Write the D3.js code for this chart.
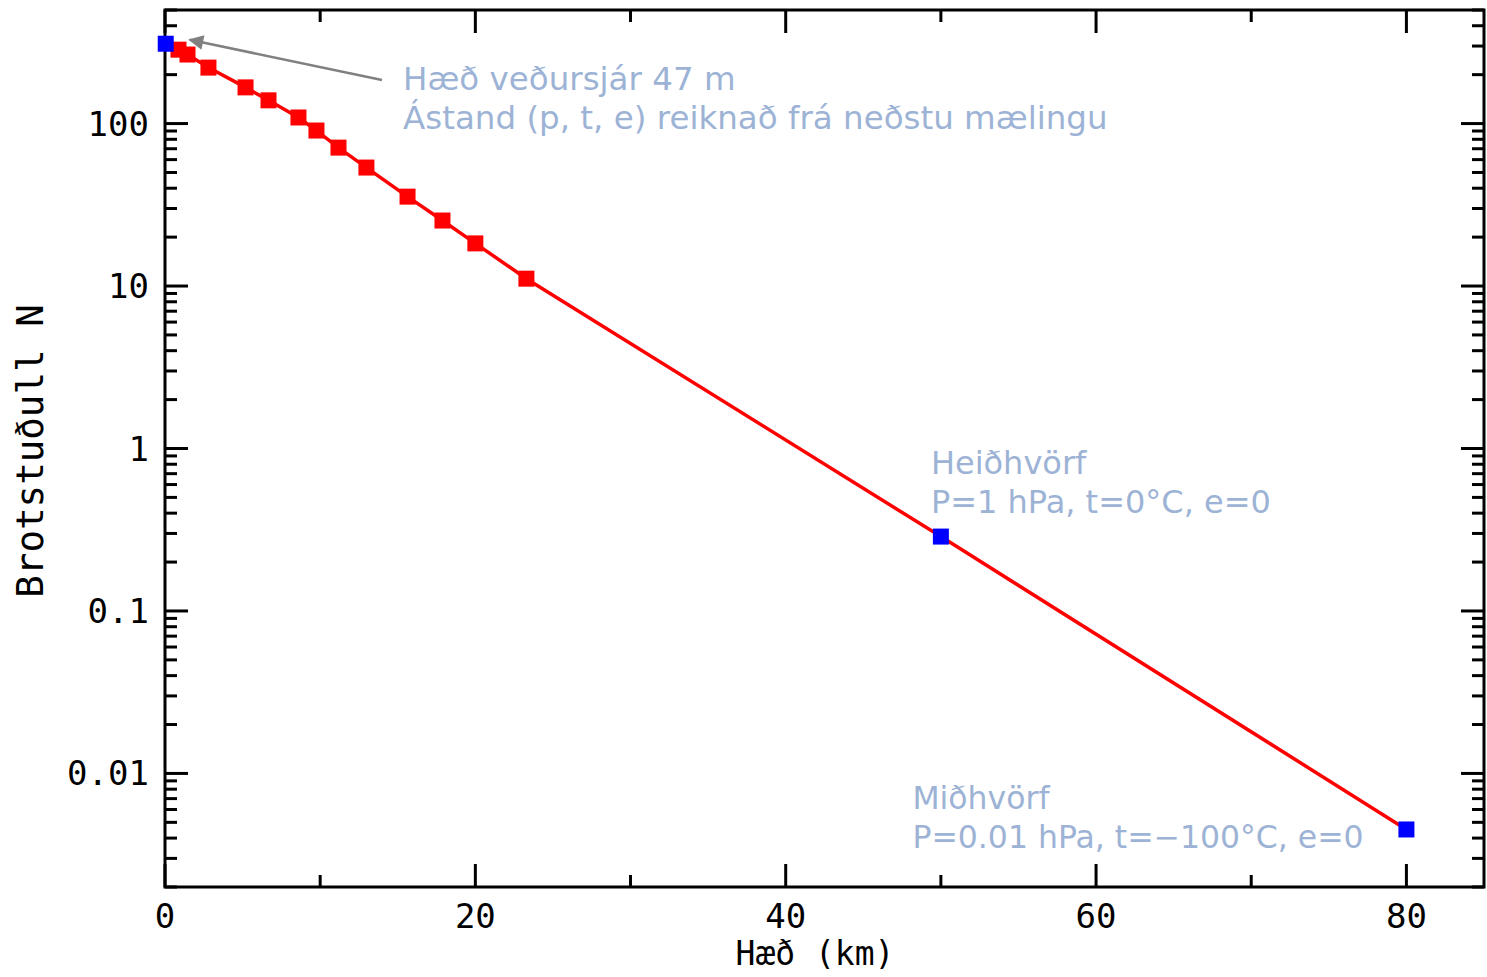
<!DOCTYPE html>
<html>
<head>
<meta charset="utf-8">
<script src="https://cdn.jsdelivr.net/npm/d3@7"></script>
<style>
  body { margin: 0; background: #fff; }
  svg { display: block; }
</style>
</head>
<body>
<div id="chart"></div>
<script>
// hæð (km) og brotstuðull N
const surface = { km: 0.047, N: 310 };
const heightsKm = [0.87, 1.45, 2.80, 5.19, 6.67, 8.60, 9.76, 11.18, 12.98, 15.63, 17.88, 20.0, 23.29];
const refractivity = [285, 266, 221, 167, 139, 109, 90.6, 71.1, 53.6, 35.5, 25.3, 18.3, 11.1];
const upperKm = [50, 80];
const upperN = [0.287, 0.00452];

const xMajor = [0, 20, 40, 60, 80];
const xMinor = [10, 30, 50, 70];
const yMajor = [0.01, 0.1, 1, 10, 100];
const yLabels = ["0.01", "0.1", "1", "10", "100"];

// set the dimensions and margins of the graph
const margin = { top: 10, right: 3, bottom: 90, left: 165 },
    width = 1484 - margin.left,
    height = 887 - margin.top;

const svgRoot = d3.select("#chart")
    .append("svg")
    .attr("width", 1487)
    .attr("height", 977);

const svg = svgRoot.append("g")
    .attr("transform", `translate(${margin.left},${margin.top})`);

const x = d3.scaleLinear().domain([0, 85]).range([0, width]);
const y = d3.scaleLog().domain([0.002, 500]).range([height, 0]);

const mono = "'DejaVu Sans Mono', monospace";
const majLen = 23, minLen = 12;

// minor y ticks (2..9 of each decade)
const yMinor = y.ticks().filter(v => !yMajor.some(m => Math.abs(m - v) / m < 1e-9));

function tickLines(g, vals, fn) {
    g.selectAll("line").data(vals).join("line")
        .attr("stroke", "#000").attr("stroke-width", 3)
        .each(fn);
}

// left & right ticks
const ticks = svg.append("g");
[[yMajor, majLen], [yMinor, minLen]].forEach(([vals, len]) => {
    ticks.append("g").call(tickLines, vals, function (d) {
        d3.select(this).attr("x1", 0).attr("x2", len).attr("y1", y(d)).attr("y2", y(d));
    });
    ticks.append("g").call(tickLines, vals, function (d) {
        d3.select(this).attr("x1", width).attr("x2", width - len).attr("y1", y(d)).attr("y2", y(d));
    });
});
// bottom & top ticks
[[xMajor, majLen], [xMinor, minLen]].forEach(([vals, len]) => {
    ticks.append("g").call(tickLines, vals, function (d) {
        d3.select(this).attr("y1", height).attr("y2", height - len).attr("x1", x(d)).attr("x2", x(d));
    });
    ticks.append("g").call(tickLines, vals, function (d) {
        d3.select(this).attr("y1", 0).attr("y2", len).attr("x1", x(d)).attr("x2", x(d));
    });
});

// frame
svg.append("rect")
    .attr("width", width).attr("height", height)
    .attr("fill", "none").attr("stroke", "#000").attr("stroke-width", 3);

// tick labels
svg.append("g").selectAll("text").data(yMajor).join("text")
    .attr("x", -16).attr("y", d => y(d))
    .attr("text-anchor", "end").attr("dominant-baseline", "central")
    .style("font-family", mono).style("font-size", "34px")
    .text((d, i) => yLabels[i]);

svg.append("g").selectAll("text").data(xMajor).join("text")
    .attr("x", d => x(d)).attr("y", height + 29)
    .attr("text-anchor", "middle").attr("dominant-baseline", "central")
    .style("font-family", mono).style("font-size", "34px")
    .text(d => d);

// axis titles
svg.append("text")
    .attr("x", 650).attr("y", height + 78)
    .attr("text-anchor", "middle")
    .style("font-family", mono).style("font-size", "33px")
    .text("Hæð  (km)");

svgRoot.append("text")
    .attr("transform", "translate(43,451) rotate(-90)")
    .attr("text-anchor", "middle")
    .style("font-family", mono).style("font-size", "37.5px")
    .text("Brotstuðull N");

// the line
const pts = [[surface.km, surface.N]]
    .concat(heightsKm.map((h, i) => [h, refractivity[i]]))
    .concat(upperKm.map((h, i) => [h, upperN[i]]));

svg.append("path")
    .datum(pts)
    .attr("fill", "none")
    .attr("stroke", "#ff0000")
    .attr("stroke-width", 3.5)
    .attr("d", d3.line().x(d => x(d[0])).y(d => y(d[1])));

const sq = 16;
svg.append("g").selectAll("rect")
    .data(heightsKm.map((h, i) => [h, refractivity[i]]))
    .join("rect")
    .attr("x", d => x(d[0]) - sq / 2).attr("y", d => y(d[1]) - sq / 2)
    .attr("width", sq).attr("height", sq)
    .attr("fill", "#ff0000");

svg.append("g").selectAll("rect")
    .data([[surface.km, surface.N]].concat(upperKm.map((h, i) => [h, upperN[i]])))
    .join("rect")
    .attr("x", d => x(d[0]) - sq / 2).attr("y", d => y(d[1]) - sq / 2)
    .attr("width", sq).attr("height", sq)
    .attr("fill", "#0000ff");

// annotations
const noteColor = "#9db3d5";
const sans = "'DejaVu Sans', Verdana, sans-serif";
function note(px, py, lines, size) {
    const t = svg.append("text")
        .attr("x", px).attr("y", py)
        .attr("fill", noteColor)
        .style("font-family", sans).style("font-size", size + "px");
    lines.forEach((l, i) => t.append("tspan").attr("x", px).attr("dy", i ? 39 : 0).text(l));
}
note(238, 80, ["Hæð veðursjár 47 m", "Ástand (p, t, e) reiknað frá neðstu mælingu"], 32.5);
note(x(50) - 10, y(upperN[0]) - 63, ["Heiðhvörf", "P=1 hPa, t=0°C, e=0"], 32);
note(x(80) - 494, y(upperN[1]) - 20, ["Miðhvörf", "P=0.01 hPa, t=−100°C, e=0"], 31.5);

// arrow to surface point
svg.append("defs").append("marker")
    .attr("id", "arr").attr("viewBox", "0 0 10 10")
    .attr("refX", 9).attr("refY", 5)
    .attr("markerWidth", 7).attr("markerHeight", 6)
    .attr("markerUnits", "strokeWidth")
    .attr("orient", "auto")
    .append("path").attr("d", "M0,0L10,5L0,10z").attr("fill", "#808080");

svg.append("line")
    .attr("x1", 217).attr("y1", 70)
    .attr("x2", x(surface.km) + 24).attr("y2", y(surface.N) - 4)
    .attr("stroke", "#808080").attr("stroke-width", 2.5)
    .attr("marker-end", "url(#arr)");
</script>
</body>
</html>
